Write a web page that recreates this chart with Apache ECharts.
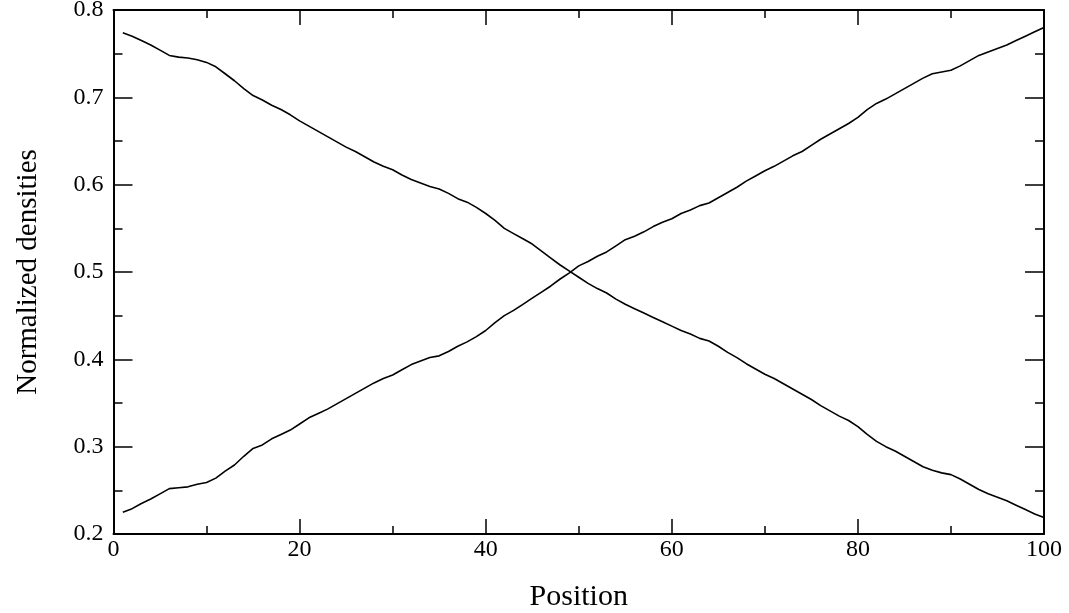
<!DOCTYPE html>
<html>
<head>
<meta charset="utf-8">
<title>Normalized densities</title>
<script src="https://cdn.jsdelivr.net/npm/echarts@6/dist/echarts.min.js"></script>
<style>
  html, body { margin: 0; padding: 0; background: #fff; }
  #chart { width: 1069px; height: 613px; }
</style>
</head>
<body>
<div id="chart"></div>
<script>
// x positions 1..100
const positions = Array.from({ length: 100 }, (_, i) => i + 1)

// decreasing curve
const densityA = [
  0.774, 0.770, 0.765, 0.760, 0.754, 0.748, 0.746, 0.745, 0.743, 0.740,
  0.735, 0.727, 0.719, 0.710, 0.702, 0.697, 0.691, 0.686, 0.680, 0.673,
  0.667, 0.661, 0.655, 0.649, 0.643, 0.638, 0.632, 0.626, 0.621, 0.617,
  0.611, 0.606, 0.602, 0.598, 0.595, 0.590, 0.584, 0.580, 0.574, 0.567,
  0.559, 0.550, 0.544, 0.538, 0.532, 0.524, 0.516, 0.508, 0.501, 0.494,
  0.487, 0.481, 0.476, 0.469, 0.463, 0.458, 0.453, 0.448, 0.443, 0.438,
  0.433, 0.429, 0.424, 0.421, 0.415, 0.408, 0.402, 0.395, 0.389, 0.383,
  0.378, 0.372, 0.366, 0.360, 0.354, 0.347, 0.341, 0.335, 0.330, 0.323,
  0.314, 0.306, 0.300, 0.295, 0.289, 0.283, 0.277, 0.273, 0.270, 0.268,
  0.263, 0.257, 0.251, 0.246, 0.242, 0.238, 0.233, 0.228, 0.223, 0.219
]

// increasing curve
const densityB = [
  0.225, 0.229, 0.235, 0.240, 0.246, 0.252, 0.253, 0.254, 0.257, 0.259,
  0.264, 0.272, 0.279, 0.289, 0.298, 0.302, 0.309, 0.314, 0.319, 0.326,
  0.333, 0.338, 0.343, 0.349, 0.355, 0.361, 0.367, 0.373, 0.378, 0.382,
  0.388, 0.394, 0.398, 0.402, 0.404, 0.409, 0.415, 0.420, 0.426, 0.433,
  0.442, 0.450, 0.456, 0.463, 0.470, 0.477, 0.484, 0.492, 0.499, 0.507,
  0.512, 0.518, 0.523, 0.530, 0.537, 0.541, 0.546, 0.552, 0.557, 0.561,
  0.567, 0.571, 0.576, 0.579, 0.585, 0.591, 0.597, 0.604, 0.610, 0.616,
  0.621, 0.627, 0.633, 0.638, 0.645, 0.652, 0.658, 0.664, 0.670, 0.677,
  0.686, 0.693, 0.698, 0.704, 0.710, 0.716, 0.722, 0.727, 0.729, 0.731,
  0.736, 0.742, 0.748, 0.752, 0.756, 0.760, 0.765, 0.770, 0.775, 0.780
]

const FONT = '"Liberation Serif", "DejaVu Serif", serif'
const INK = '#000'

const chart = echarts.init(document.getElementById('chart'))

function xAxisCfg(pos, showLabels) {
  return {
    type: 'value',
    position: pos,
    min: 0,
    max: 100,
    interval: 20,
    name: showLabels ? 'Position' : '',
    nameLocation: 'middle',
    nameGap: 48,
    nameTextStyle: { fontFamily: FONT, fontSize: 30, color: INK },
    axisLine: { show: true, onZero: false, lineStyle: { color: INK, width: 2 } },
    axisTick: { show: true, inside: true, length: 15, lineStyle: { color: INK, width: 1.5 } },
    minorTick: { show: true, splitNumber: 2, length: 8, lineStyle: { color: INK, width: 1.5 } },
    axisLabel: { show: showLabels, fontFamily: FONT, fontSize: 24, color: INK, margin: 4 },
    splitLine: { show: false }
  }
}

function yAxisCfg(pos, showLabels) {
  return {
    type: 'value',
    position: pos,
    min: 0.2,
    max: 0.8,
    interval: 0.1,
    name: showLabels ? 'Normalized densities' : '',
    nameLocation: 'middle',
    nameGap: 71,
    nameTextStyle: { fontFamily: FONT, fontSize: 29, color: INK },
    axisLine: { show: true, onZero: false, lineStyle: { color: INK, width: 2 } },
    axisTick: { show: true, inside: true, length: 19, lineStyle: { color: INK, width: 1.5 } },
    minorTick: { show: true, splitNumber: 2, length: 9, lineStyle: { color: INK, width: 1.5 } },
    axisLabel: {
      show: showLabels,
      fontFamily: FONT,
      fontSize: 24,
      color: INK,
      margin: 10,
      formatter: v => v.toFixed(1)
    },
    splitLine: { show: false }
  }
}

chart.setOption({
  animation: false,
  backgroundColor: '#fff',
  grid: {
    left: 113.5, right: 25, top: 10, bottom: 79,
    containLabel: false,
    outerBoundsMode: 'none'
  },
  xAxis: [xAxisCfg('bottom', true), xAxisCfg('top', false)],
  yAxis: [yAxisCfg('left', true), yAxisCfg('right', false)],
  series: [
    {
      name: 'A',
      type: 'line',
      showSymbol: false,
      lineStyle: { color: INK, width: 1.6 },
      data: positions.map((x, i) => [x, densityA[i]])
    },
    {
      name: 'B',
      type: 'line',
      showSymbol: false,
      lineStyle: { color: INK, width: 1.6 },
      data: positions.map((x, i) => [x, densityB[i]])
    }
  ]
})
</script>
</body>
</html>
